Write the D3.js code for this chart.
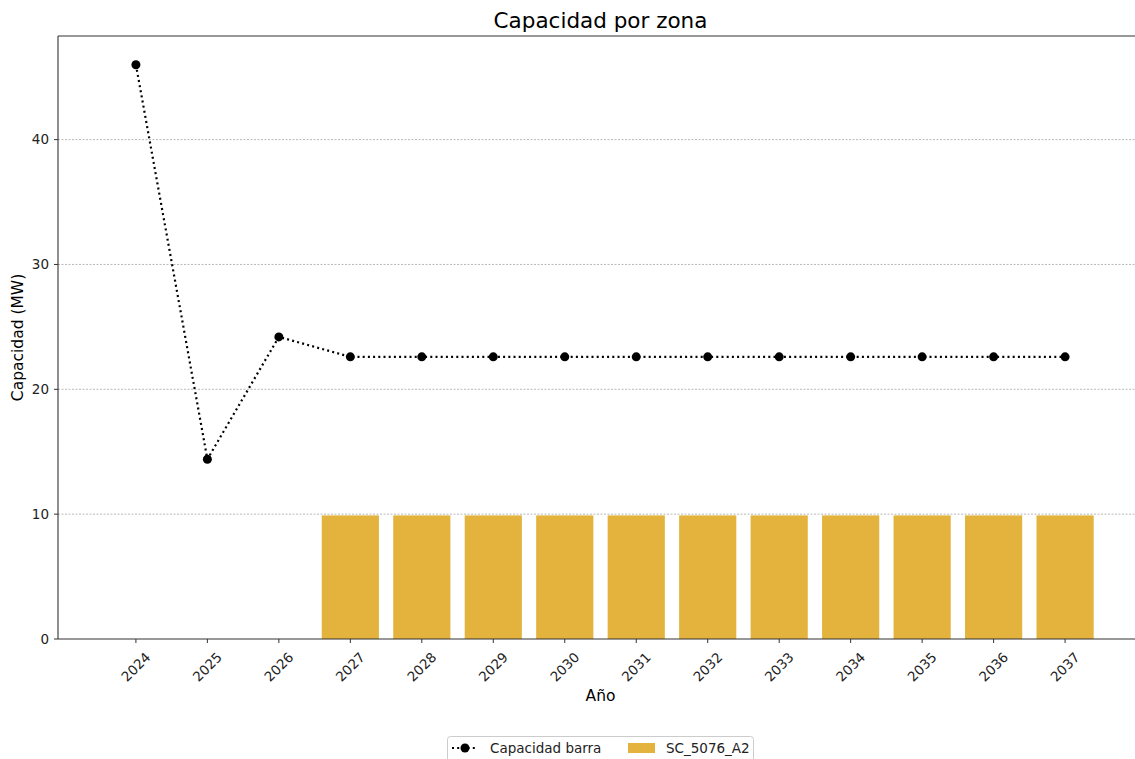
<!DOCTYPE html>
<html><head><meta charset="utf-8">
<script src="https://cdn.jsdelivr.net/npm/d3@7"></script>
<style>body{margin:0;background:#fff;} svg{display:block;font-family:"DejaVu Sans",sans-serif;}</style>
</head><body>
<script>
const years = ["2024","2025","2026","2027","2028","2029","2030","2031","2032","2033","2034","2035","2036","2037"];
const lineValues = [46.0,14.4,24.2,22.6,22.6,22.6,22.6,22.6,22.6,22.6,22.6,22.6,22.6,22.6];
const barValues = [0,0,0,9.9,9.9,9.9,9.9,9.9,9.9,9.9,9.9,9.9,9.9,9.9];
const yTicks = [0,10,20,30,40];
const lineName = "Capacidad barra";
const barName = "SC_5076_A2";

const W=1135,H=759;
const m={left:58,right:1143,top:36,bottom:639};
const svg=d3.select("body").append("svg").attr("width",W).attr("height",H);
const x=d3.scaleLinear().domain([-1.09,years.length-1+1.09]).range([m.left,m.right]);
const y=d3.scaleLinear().domain([0,48.3]).range([m.bottom,m.top]);
const barW=x(0.8)-x(0);
const tickFont=13.5;

// grid
svg.append("g").selectAll("line").data(yTicks.filter(d=>d>0)).join("line")
  .attr("x1",m.left).attr("x2",m.right).attr("y1",d=>y(d)).attr("y2",d=>y(d))
  .attr("stroke","#999").attr("stroke-width",0.7).attr("stroke-dasharray","2,1.5");

// bars
svg.append("g").selectAll("rect").data(barValues.map((v,i)=>({v,i})).filter(d=>d.v>0)).join("rect")
  .attr("x",d=>x(d.i)-barW/2).attr("width",barW)
  .attr("y",d=>y(d.v)).attr("height",d=>y(0)-y(d.v))
  .attr("fill","#e3b33d");

// line
const line=d3.line().x((d,i)=>x(i)).y(d=>y(d));
svg.append("path").datum(lineValues).attr("d",line).attr("fill","none")
  .attr("stroke","#000").attr("stroke-width",2.2).attr("stroke-dasharray","2,3.2").attr("stroke-linecap","butt");
svg.append("g").selectAll("circle").data(lineValues).join("circle")
  .attr("cx",(d,i)=>x(i)).attr("cy",d=>y(d)).attr("r",4.5).attr("fill","#000");

// spines
const sp=svg.append("g").attr("stroke","#333").attr("stroke-width",1.1);
sp.append("line").attr("x1",m.left).attr("x2",m.left).attr("y1",m.top).attr("y2",m.bottom);
sp.append("line").attr("x1",m.left).attr("x2",m.right).attr("y1",m.top).attr("y2",m.top);
sp.append("line").attr("x1",m.left).attr("x2",m.right).attr("y1",m.bottom).attr("y2",m.bottom);
sp.append("line").attr("x1",m.right).attr("x2",m.right).attr("y1",m.top).attr("y2",m.bottom);

// y ticks
const yg=svg.append("g");
yTicks.forEach(t=>{
  yg.append("line").attr("x1",m.left-4).attr("x2",m.left).attr("y1",y(t)).attr("y2",y(t)).attr("stroke","#333");
  yg.append("text").attr("x",m.left-9).attr("y",y(t)).attr("dy","0.35em").attr("text-anchor","end")
    .attr("font-size",tickFont).attr("fill","#222").text(t);
});
// x ticks
const xg=svg.append("g");
years.forEach((yr,i)=>{
  xg.append("line").attr("x1",x(i)).attr("x2",x(i)).attr("y1",m.bottom).attr("y2",m.bottom+4).attr("stroke","#333");
  xg.append("text").attr("transform",`translate(${x(i)},${667}) rotate(-45)`)
    .attr("text-anchor","middle").attr("dy","0.35em").attr("font-size",tickFont).attr("fill","#222").text(yr);
});

// labels
svg.append("text").attr("x",(m.left+m.right)/2).attr("y",28).attr("text-anchor","middle")
  .attr("font-size",21.5).attr("fill","#000").text("Capacidad por zona");
svg.append("text").attr("x",(m.left+m.right)/2).attr("y",701).attr("text-anchor","middle")
  .attr("font-size",15.5).attr("fill","#000").text("Año");
svg.append("text").attr("transform",`translate(23,${(m.top+m.bottom)/2}) rotate(-90)`).attr("text-anchor","middle")
  .attr("font-size",15.5).attr("fill","#000").text("Capacidad (MW)");

// legend
const lg=svg.append("g");
lg.append("rect").attr("x",447.5).attr("y",736.5).attr("width",306).attr("height",30).attr("rx",3)
  .attr("fill","#fff").attr("stroke","#ccc");
lg.append("line").attr("x1",452).attr("x2",478).attr("y1",748).attr("y2",748).attr("stroke","#000")
  .attr("stroke-width",2.2).attr("stroke-dasharray","2,3.2");
lg.append("circle").attr("cx",465).attr("cy",748).attr("r",4.5).attr("fill","#000");
lg.append("text").attr("x",490).attr("y",748).attr("dy","0.35em").attr("font-size",tickFont).attr("fill","#222").text(lineName);
lg.append("rect").attr("x",628).attr("y",743).attr("width",27).attr("height",10).attr("fill","#e3b33d");
lg.append("text").attr("x",666).attr("y",748).attr("dy","0.35em").attr("font-size",tickFont).attr("fill","#222").text(barName);
</script>
</body></html>
